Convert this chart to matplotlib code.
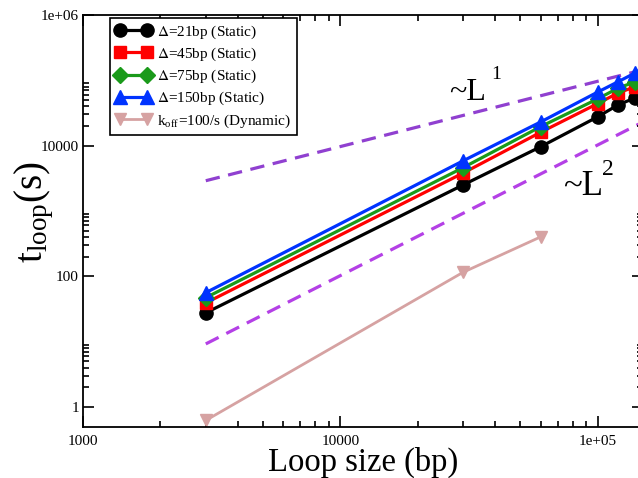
import matplotlib
matplotlib.use("Agg")
import matplotlib.pyplot as plt
from matplotlib.ticker import FixedLocator, FixedFormatter, NullFormatter

plt.rcParams['font.family'] = ['Liberation Serif', 'DejaVu Serif']
plt.rcParams['mathtext.fontset'] = 'stix'

# ---- data ----
x_static = [3000, 30000, 60000, 100000, 120000, 140000]
t_21 = [27.5, 2500, 9600, 27600, 42000, 54000]
t_45 = [39, 3800, 16000, 44000, 64000, 80000]
t_75 = [47, 4600, 19500, 52000, 76000, 95000]
t_150 = [56, 5850, 23000, 66000, 95000, 130000]

x_dyn = [3000, 30000, 60000]
t_dyn = [0.62, 115, 400]

guide_x = [3000, 150000]
guide_L1 = [2900, 145000]
guide_L2 = [9.2, 23000]

labels = [r'$\Delta$=21bp (Static)', r'$\Delta$=45bp (Static)',
          r'$\Delta$=75bp (Static)', r'$\Delta$=150bp (Static)',
          r'k$_{\mathregular{off}}$=100/s (Dynamic)']

x_major = [1000, 10000, 100000]
x_major_labels = ['1000', '10000', '1e+05']
y_major = [1, 100, 10000, 1000000]
y_major_labels = ['1', '100', '10000', '1e+06']

# ---- figure ----
W, H = 638, 478
fig = plt.figure(figsize=(W / 100, H / 100), dpi=100)
left, right, top, bottom = 83, 643, 15, 426.5
ax = fig.add_axes([left / W, 1 - bottom / H, (right - left) / W, (bottom - top) / H])
ax.set_xscale('log')
ax.set_yscale('log')
ax.set_xlim(1000, 150000)
ax.set_ylim(0.5, 1e6)

ax.plot(guide_x, guide_L1, ls=(0, (4.5, 2.7)), color='#9040d0', lw=2.3, zorder=1)
ax.plot(guide_x, guide_L2, ls=(0, (4.5, 2.7)), color='#b440e6', lw=2.3, zorder=1)

series = [
    (t_21, 'black', 'o', 9.5),
    (t_45, '#ff0000', 's', 8.5),
    (t_75, '#1a9a1a', 'D', 8),
    (t_150, '#0033ff', '^', 9.5),
]
handles = []
for (yv, c, m, ms), lab in zip(series, labels[:4]):
    h, = ax.plot(x_static, yv, color=c, marker=m, ms=ms, lw=2.3, label=lab, zorder=3)
    handles.append(h)
h, = ax.plot(x_dyn, t_dyn, color='#d6a2a2', marker='v', ms=9, lw=2.0, label=labels[4], zorder=2)
handles.append(h)

leg = ax.legend(handles=handles, loc='upper left', bbox_to_anchor=((110 - left) / (right - left), 1 - (18 - top) / (bottom - top)),
                numpoints=2, fontsize=11, handlelength=2.4, handletextpad=0.35,
                labelspacing=0.32, borderpad=0.35, borderaxespad=0, fancybox=False,
                frameon=True, edgecolor='black', framealpha=1)
leg.get_frame().set_linewidth(1.2)

# scaling annotations (pixel positions, origin top-left)
def ptext(x, y, s, size):
    fig.text(x / W, 1 - y / H, s, fontsize=size, ha='left', va='baseline')

ptext(449, 100, '~L', 23)
ptext(491, 79, '1', 14)
ptext(563, 195, '~L', 25)
ptext(602, 175, '2', 17)

# ticks
ax.xaxis.set_major_locator(FixedLocator(x_major))
ax.xaxis.set_major_formatter(FixedFormatter(x_major_labels))
ax.yaxis.set_major_locator(FixedLocator(y_major))
ax.yaxis.set_major_formatter(FixedFormatter(y_major_labels))
x_minor = [k * 10 ** n for n in (3, 4, 5) for k in range(2, 10)]
y_minor = [k * 10 ** n for n in (0, 2, 4) for k in range(2, 10)]
ax.xaxis.set_minor_locator(FixedLocator(x_minor))
ax.yaxis.set_minor_locator(FixedLocator(y_minor))
ax.xaxis.set_minor_formatter(NullFormatter())
ax.yaxis.set_minor_formatter(NullFormatter())
ax.tick_params(which='both', direction='in', top=True, right=True, labelsize=11, width=1.2)
ax.tick_params(which='major', length=8)
ax.tick_params(which='minor', length=4.5)
ax.tick_params(axis='x', pad=6)
ax.tick_params(axis='y', pad=3)
for s in ax.spines.values():
    s.set_linewidth(1.3)

ax.set_xlabel('Loop size (bp)', fontsize=23.5)
ax.xaxis.set_label_coords((363 - left) / (right - left), -(447 - bottom) / (bottom - top))
ax.set_ylabel(r'$\mathregular{t_{loop}(s)}$', fontsize=28)
ax.yaxis.set_label_coords((56 - left) / (right - left), (bottom - 212) / (bottom - top))

fig.savefig('out.png', dpi=100)
